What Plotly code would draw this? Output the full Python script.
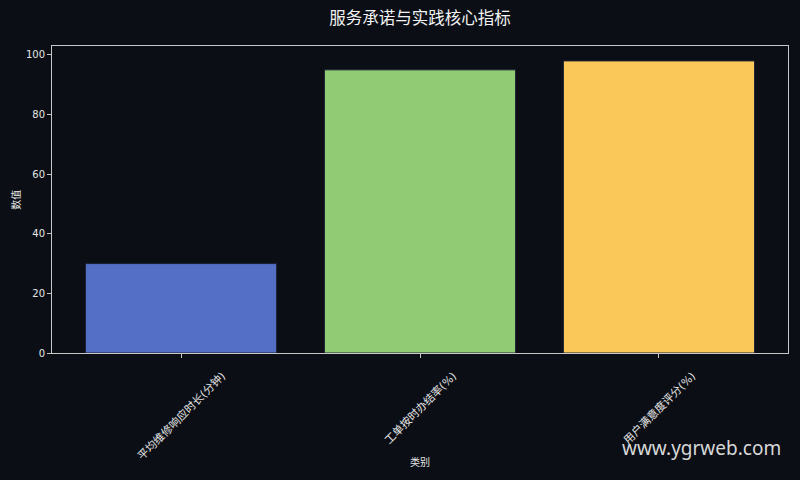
import plotly.graph_objects as go

categories = ["平均维修响应时长(分钟)", "工单按时办结率(%)", "用户满意度评分(%)"]
values = [30, 95, 98]
colors = ["#5470c6", "#91cc75", "#fac858"]

bg = "#0b0e15"
fg = "#e6e6e6"
font_family = "DejaVu Sans, Noto Sans CJK SC, sans-serif"

fig = go.Figure()
fig.add_trace(go.Bar(
    x=categories, y=values, width=0.8,
    marker=dict(color=colors, line=dict(color="#1a2035", width=1)),
    showlegend=False,
))

axis_style = dict(
    showline=True, linecolor="#c8c8c8", linewidth=1, mirror=True,
    ticks="outside", ticklen=4, tickcolor="#c8c8c8",
    showgrid=False, zeroline=False,
)

# x tick labels drawn as rotated annotations centred under each tick (matplotlib style)
fig.update_xaxes(range=[-0.54, 2.54], showticklabels=False, **axis_style)
fig.update_yaxes(range=[0, 103], dtick=20,
                 tickfont=dict(size=10, color=fg, family=font_family), **axis_style)

for cat in categories:
    fig.add_annotation(text=cat, x=cat, y=-0.042, xref="x", yref="paper",
                       xanchor="center", yanchor="top", textangle=-45, showarrow=False,
                       font=dict(size=11, color=fg, family=font_family))

fig.add_annotation(text="类别", x=0.5, y=-0.355, xref="paper", yref="paper",
                   xanchor="center", yanchor="middle", showarrow=False,
                   font=dict(size=10, color=fg, family=font_family))
fig.add_annotation(text="数值", x=-0.05, y=0.5, xref="paper", yref="paper",
                   xanchor="center", yanchor="middle", textangle=-90, showarrow=False,
                   font=dict(size=10, color=fg, family=font_family))
# watermark
fig.add_annotation(text="www.ygrweb.com", x=0.882, y=-0.309, xref="paper", yref="paper",
                   xanchor="center", yanchor="middle", showarrow=False,
                   font=dict(size=19, color="#d8d8d8", family="Noto Sans, DejaVu Sans"))

fig.update_layout(
    width=800, height=480,
    title=dict(text="服务承诺与实践核心指标", x=0.525, xanchor="center", y=0.9625, yanchor="middle",
               font=dict(size=16.5, color="#f2f2f2", family=font_family)),
    margin=dict(l=52, r=12, t=46, b=127),
    paper_bgcolor=bg, plot_bgcolor=bg,
    bargap=0.2,
)

fig.write_html("out.html", config={"displayModeBar": False},
               post_script="document.body.style.margin='0';")
